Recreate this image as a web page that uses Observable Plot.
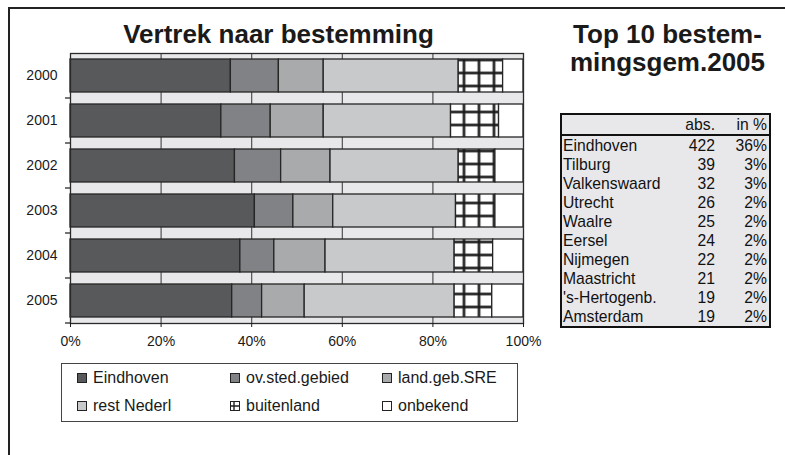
<!DOCTYPE html>
<html><head><meta charset="utf-8">
<script src="https://cdn.jsdelivr.net/npm/d3@7"></script>
<script src="https://cdn.jsdelivr.net/npm/@observablehq/plot@0.6"></script>
<style>
html,body{margin:0;padding:0;background:#fff;}
body{width:785px;height:455px;position:relative;overflow:hidden;font-family:"Liberation Sans",Arial,Helvetica,sans-serif;color:#1a1a1a;}
#frame{position:absolute;left:8px;top:7px;width:800px;height:470px;border-left:2px solid #222;border-top:2px solid #222;}
.title{position:absolute;font-weight:bold;font-size:26px;line-height:28px;text-align:center;color:#1a1a1a;white-space:nowrap;}
#t1{left:52px;width:453px;top:20px;}
#t2{left:562px;width:211px;top:20px;}
#chart{position:absolute;left:0;top:48px;}
#legend{position:absolute;left:61px;top:363px;width:457px;height:59px;box-sizing:border-box;border:1px solid #444;}
.li{position:absolute;font-size:16px;line-height:18px;white-space:nowrap;}
.sw{position:absolute;}
#tbl{position:absolute;left:560px;top:113px;width:211px;box-sizing:border-box;border:2px solid #111;background:#e8e8ea;}
#tbl table{border-collapse:collapse;table-layout:fixed;width:207px;font-size:15.7px;line-height:19px;color:#111;}
#tbl td{padding:0;white-space:nowrap;overflow:visible;}
#tbl td.n{text-align:left;padding-left:1px;}
#tbl td.a{text-align:right;}
#tbl td.p{text-align:right;padding-right:2px;}
#tbl tr.h td{border-bottom:2px solid #111;line-height:19px;}
</style>
</head><body>
<div id="frame"></div>
<div id="t1" class="title">Vertrek naar bestemming</div>
<div id="t2" class="title">Top 10 bestem-<br>mingsgem.2005</div>
<div id="chart"></div>
<div id="legend"></div>
<div id="tbl"></div>
<script>
// ---- data ----
const years = ["2000", "2001", "2002", "2003", "2004", "2005"];
const series = ["Eindhoven", "ov.sted.gebied", "land.geb.SRE", "rest Nederl", "buitenland", "onbekend"];
const eindhoven  = [35.4, 33.3, 36.3, 40.7, 37.5, 35.7];
const ovSted     = [10.6, 10.9, 10.2, 8.5, 7.5, 6.6];
const landGeb    = [9.9, 11.7, 10.9, 8.8, 11.3, 9.4];
const restNederl = [29.8, 28.1, 28.3, 27.1, 28.5, 33.1];
const buitenland = [9.8, 10.6, 8.1, 8.7, 8.5, 8.3];
const onbekend   = [4.5, 5.4, 6.2, 6.2, 6.7, 6.9];
const xTicks = [0, 20, 40, 60, 80, 100];
const colors = ["#58595b", "#818285", "#a9aaac", "#c8c9cb", "url(#bl-grid)", "#ffffff"];

const topNames = ["Eindhoven", "Tilburg", "Valkenswaard", "Utrecht", "Waalre", "Eersel", "Nijmegen", "Maastricht", "'s-Hertogenb.", "Amsterdam"];
const topAbs = [422, 39, 32, 26, 25, 24, 22, 21, 19, 19];
const topPct = [36, 3, 3, 2, 2, 2, 2, 2, 2, 2];
const tableHeader = ["", "abs.", "in %"];

// ---- build ----
const valueArrays = [eindhoven, ovSted, landGeb, restNederl, buitenland, onbekend];
const data = years.flatMap((yr, i) => series.map((s, j) => ({year: yr, series: s, value: valueArrays[j][i]})));

const yTicks = (index, scales, values, dimensions) => {
  const y = scales.y;
  const bw = typeof y.bandwidth === "function" ? y.bandwidth() : (scales.scales && scales.scales.y ? scales.scales.y.bandwidth : 0);
  const ys = years.map(v => y(v));
  const step = ys.length > 1 ? ys[1] - ys[0] : bw;
  const g = d3.create("svg:g").attr("stroke", "#1a1a1a").attr("stroke-width", 1.2);
  ys.forEach(v => {
    const yb = v + bw + (step - bw) / 2;
    g.append("line").attr("x1", dimensions.marginLeft - 5).attr("x2", dimensions.marginLeft)
      .attr("y1", yb).attr("y2", yb);
  });
  return g.node();
};

const chart = Plot.plot({
  width: 560, height: 310,
  marginLeft: 70, marginRight: 37, marginTop: 5, marginBottom: 35,
  style: {fontFamily: "'Liberation Sans', Arial, sans-serif", fontSize: "14px", color: "#1a1a1a", background: "transparent", overflow: "visible"},
  x: {domain: [0, 100], ticks: xTicks, label: null},
  y: {domain: years, paddingInner: 0.27, paddingOuter: 0.135, label: null},
  color: {type: "ordinal", domain: series, range: colors},
  marks: [
    Plot.frame({fill: "#e8e8ea", stroke: "none"}),
    Plot.ruleX(xTicks.slice(1, -1), {stroke: "#444", strokeWidth: 1.1}),
    Plot.barX(data, Plot.stackX({x: "value", y: "year", fill: "series", stroke: "#262626", strokeWidth: 1.3})),
    Plot.frame({stroke: "#2a2a2a", strokeWidth: 1.3}),
    Plot.axisX({ticks: xTicks, tickFormat: d => d + "%", tickSize: 4, tickPadding: 9, fontSize: 14}),
    Plot.axisY({tickSize: 0, tickPadding: 13, fontSize: 14}),
    yTicks
  ]
});

// pattern for "buitenland"
const svgSel = d3.select(chart);
const defs = svgSel.insert("defs", ":first-child");
const pat = defs.append("pattern").attr("id", "bl-grid").attr("patternUnits", "userSpaceOnUse")
  .attr("x", 6.5).attr("y", 5.5).attr("width", 15).attr("height", 13);
pat.append("rect").attr("width", 15).attr("height", 13).attr("fill", "#fff");
pat.append("path").attr("d", "M7.5 0V13M0 6.5H15").attr("stroke", "#888").attr("stroke-width", 3.2);
pat.append("path").attr("d", "M7.5 0V13M0 6.5H15").attr("stroke", "#111").attr("stroke-width", 1.8);
document.getElementById("chart").appendChild(chart);

// legend
const legend = d3.select("#legend");
const colX = [15, 168, 320];
const rowY = [14, 42];
series.forEach((s, k) => {
  const cx = colX[k % 3], cy = rowY[Math.floor(k / 3)];
  const sw = legend.append("svg").attr("class", "sw").attr("width", 10).attr("height", 10)
    .style("left", cx + "px").style("top", (cy - 5) + "px");
  sw.append("rect").attr("x", 0.5).attr("y", 0.5).attr("width", 9).attr("height", 9)
    .attr("fill", colors[k].startsWith("url") ? "#fff" : colors[k]).attr("stroke", "#222").attr("stroke-width", 1);
  if (colors[k].startsWith("url")) {
    sw.append("path").attr("d", "M4 0.5V9.5M0.5 5H9.5").attr("stroke", "#222").attr("stroke-width", 1.4);
  }
  legend.append("div").attr("class", "li").style("left", (cx + 16) + "px").style("top", (cy - 9) + "px").text(s);
});

// table
const tbl = d3.select("#tbl").append("table");
const cg = tbl.append("colgroup");
[118, 35, 54].forEach(w => cg.append("col").style("width", w + "px"));
const hr = tbl.append("tr").attr("class", "h");
tableHeader.forEach((t, i) => hr.append("td").attr("class", ["n", "a", "p"][i]).text(t));
topNames.forEach((n, i) => {
  const tr = tbl.append("tr");
  tr.append("td").attr("class", "n").text(n);
  tr.append("td").attr("class", "a").text(topAbs[i]);
  tr.append("td").attr("class", "p").text(topPct[i] + "%");
});
</script>
</body></html>
